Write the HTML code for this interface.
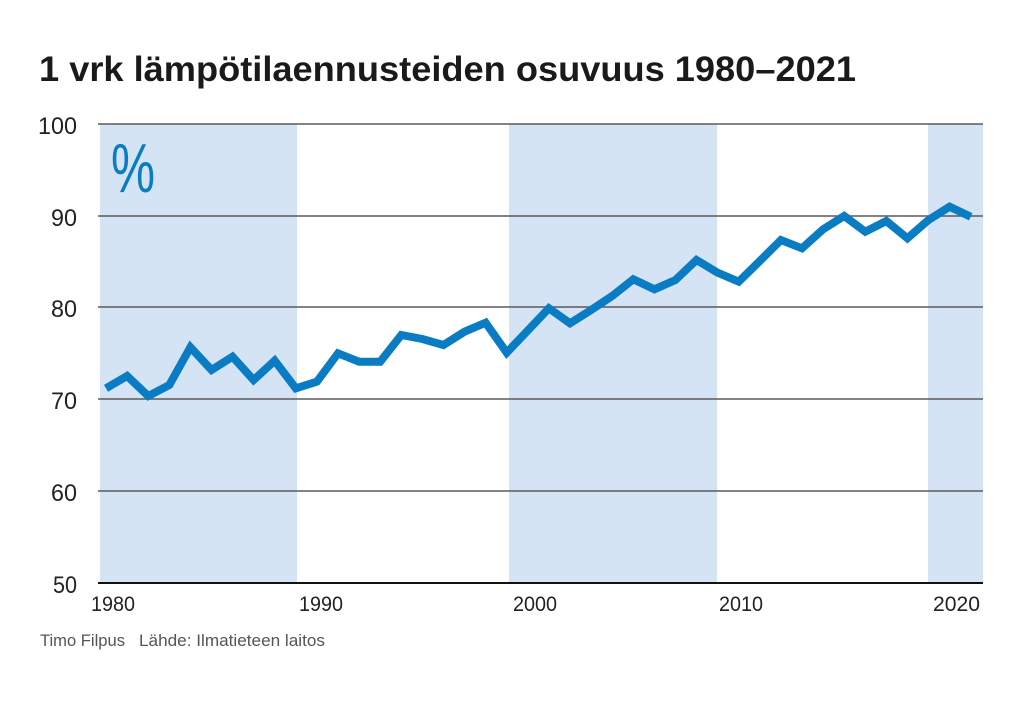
<!DOCTYPE html>
<html>
<head>
<meta charset="utf-8">
<style>
html,body{margin:0;padding:0;background:#fff;}
svg{display:block;}
</style>
</head>
<body>
<svg width="1019" height="702" viewBox="0 0 1019 702" xmlns="http://www.w3.org/2000/svg">
<rect x="0" y="0" width="1019" height="702" fill="#fff"/>
<!-- title -->
<text x="39" y="81" font-family="Liberation Sans, sans-serif" font-weight="bold" font-size="35" fill="#1a1a1a" textLength="817" lengthAdjust="spacingAndGlyphs">1 vrk lämpötilaennusteiden osuvuus 1980–2021</text>
<!-- bands -->
<rect x="100" y="124" width="197" height="459" fill="#d5e4f4"/>
<rect x="509" y="124" width="208" height="459" fill="#d5e4f4"/>
<rect x="928" y="124" width="55" height="459" fill="#d5e4f4"/>
<!-- gridlines -->
<g stroke="#5a5a5a" stroke-width="1.6">
<line x1="98" y1="124" x2="983" y2="124"/>
<line x1="98" y1="216" x2="983" y2="216"/>
<line x1="98" y1="307" x2="983" y2="307"/>
<line x1="98" y1="399" x2="983" y2="399"/>
<line x1="98" y1="491" x2="983" y2="491"/>
</g>
<line x1="98" y1="583" x2="983" y2="583" stroke="#111" stroke-width="2"/>
<!-- y labels -->
<g font-family="Liberation Sans, sans-serif" font-size="24" fill="#222" text-anchor="end">
<text x="77" y="134" textLength="39" lengthAdjust="spacingAndGlyphs">100</text>
<text x="77" y="226" textLength="26" lengthAdjust="spacingAndGlyphs">90</text>
<text x="77" y="317" textLength="26" lengthAdjust="spacingAndGlyphs">80</text>
<text x="77" y="409" textLength="26" lengthAdjust="spacingAndGlyphs">70</text>
<text x="77" y="501" textLength="26" lengthAdjust="spacingAndGlyphs">60</text>
<text x="77" y="593" textLength="24" lengthAdjust="spacingAndGlyphs">50</text>
</g>
<!-- x labels -->
<g font-family="Liberation Sans, sans-serif" font-size="21" fill="#222">
<text x="91" y="611" textLength="44" lengthAdjust="spacingAndGlyphs">1980</text>
<text x="299" y="611" textLength="44" lengthAdjust="spacingAndGlyphs">1990</text>
<text x="513" y="611" textLength="44" lengthAdjust="spacingAndGlyphs">2000</text>
<text x="719" y="611" textLength="44" lengthAdjust="spacingAndGlyphs">2010</text>
<text x="933" y="611" textLength="47" lengthAdjust="spacingAndGlyphs">2020</text>
</g>
<!-- percent -->
<text x="111" y="192" font-family="Liberation Sans, sans-serif" font-size="70" fill="#0a7cc4" textLength="44" lengthAdjust="spacingAndGlyphs">%</text>
<!-- series -->
<polyline fill="none" stroke="#0a7cc4" stroke-width="8" stroke-linejoin="miter" stroke-miterlimit="2.5" points="106.0,388.3 127.1,376 148.2,396 169.3,385 190.4,347.3 211.5,370 232.5,356.7 253.6,380 274.7,360.7 295.8,388.3 316.9,381.7 338.0,353.3 359.1,361.7 380.2,361.7 401.3,335 422.4,339 443.4,345 464.5,331.7 485.6,322.7 506.7,352.7 527.8,330.5 548.9,308.3 570.0,323.3 591.1,310 612.2,296 633.3,279.3 654.4,289.3 675.4,280 696.5,260 717.6,272.7 738.7,281.7 759.8,261 780.9,240 802.0,248.3 823.1,229.3 844.2,216 865.3,231.7 886.3,221 907.4,238.3 928.5,220 949.6,206.7 970.7,216.7"/>
<!-- footer -->
<text x="40" y="646" font-family="Liberation Sans, sans-serif" font-size="17" fill="#555" textLength="85" lengthAdjust="spacingAndGlyphs">Timo Filpus</text>
<text x="139" y="646" font-family="Liberation Sans, sans-serif" font-size="17" fill="#555" textLength="186" lengthAdjust="spacingAndGlyphs">Lähde: Ilmatieteen laitos</text>
</svg>
</body>
</html>
